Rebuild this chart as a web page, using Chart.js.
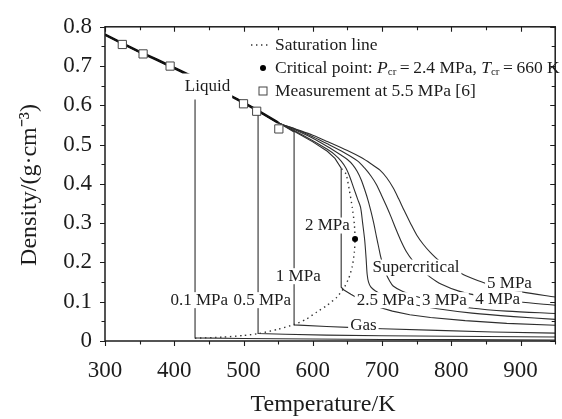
<!DOCTYPE html>
<html>
<head>
<meta charset="utf-8">
<script src="https://cdn.jsdelivr.net/npm/chart.js@4.4.0/dist/chart.umd.min.js"></script>
<style>
  html, body { margin: 0; padding: 0; background: #fff; }
  #wrap { width: 562px; height: 419px; }
</style>
</head>
<body>
<div id="wrap"><canvas id="myChart" width="562" height="419"></canvas></div>
<script>
const SERIF = "'Liberation Serif', 'Times New Roman', serif";
const INK = '#1c1c1c';
const LINE = '#2e2e2e';

// compressed liquid branch shared by every isobar (K, g/cm3)
const liquidT   = [300, 325, 350, 375, 400, 425, 450, 475, 500, 525, 550];
const liquidRho = [0.780, 0.758, 0.736, 0.716, 0.695, 0.674, 0.652, 0.630, 0.607, 0.582, 0.556];

// each isobar from the point where it leaves the shared liquid branch: [T, rho]
const p01 = [[430, 0.669], [430, 0.008], [500, 0.0065], [600, 0.005], [700, 0.004], [800, 0.0035], [950, 0.0025]];
const p05 = [[521, 0.586], [521, 0.019], [560, 0.017], [620, 0.015], [700, 0.0135], [800, 0.012], [950, 0.010]];
const p1  = [[573, 0.532], [573, 0.041], [620, 0.037], [660, 0.034], [700, 0.031], [780, 0.027], [860, 0.023], [950, 0.020]];
const p2  = [[575, 0.532], [600, 0.507], [621, 0.483], [632, 0.465], [641, 0.440], [641, 0.137], [645, 0.130],
             [655, 0.119], [665, 0.109], [680, 0.097], [692, 0.088], [715, 0.076], [740, 0.067], [770, 0.060],
             [820, 0.052], [880, 0.045], [950, 0.040]];
const p25 = [[575, 0.534], [600, 0.510], [621, 0.488], [632, 0.474], [641, 0.458], [648, 0.440], [653, 0.420],
             [659, 0.390], [665, 0.360], [669, 0.340], [672, 0.300], [675, 0.256], [677, 0.210], [678.5, 0.170],
             [680.5, 0.150], [684, 0.137], [690, 0.128], [700, 0.118], [715, 0.107], [740, 0.095], [780, 0.082],
             [830, 0.071], [890, 0.062], [950, 0.055]];
const p3  = [[575, 0.537], [600, 0.516], [621, 0.495], [640, 0.474], [650, 0.462], [658, 0.448], [664, 0.432],
             [670, 0.410], [675, 0.385], [680, 0.357], [684, 0.330], [688, 0.300], [692, 0.265], [695, 0.240],
             [698, 0.215], [702, 0.190], [706, 0.170], [711, 0.153], [716, 0.140], [730, 0.126], [759, 0.108],
             [790, 0.095], [828, 0.084], [880, 0.076], [950, 0.070]];
const p4  = [[575, 0.539], [600, 0.520], [621, 0.502], [645, 0.480], [665, 0.458], [675, 0.440], [684, 0.420],
             [692, 0.398], [699, 0.372], [706, 0.345], [713, 0.316], [720, 0.285], [727, 0.256], [735, 0.228],
             [745, 0.203], [757, 0.181], [770, 0.162], [785, 0.145], [811, 0.127], [850, 0.112], [897, 0.100],
             [950, 0.091]];
const p5  = [[575, 0.540], [600, 0.524], [621, 0.508], [650, 0.485], [670, 0.467], [685, 0.450], [697, 0.435],
             [707, 0.415], [716, 0.390], [724, 0.362], [732, 0.332], [741, 0.300], [750, 0.270], [760, 0.245],
             [770, 0.225], [782, 0.205], [797, 0.188], [810, 0.176], [821, 0.166], [849, 0.147], [875, 0.135],
             [902, 0.125], [950, 0.112]];

// saturation dome, gas side up to the critical point and back down the liquid side
const satT   = [430, 470, 500, 522, 550, 573, 590, 606, 620, 635, 645, 652, 657, 660, 661, 660, 657, 653, 648, 641];
const satRho = [0.007, 0.010, 0.014, 0.019, 0.030, 0.042, 0.055, 0.074, 0.090, 0.112, 0.135, 0.160, 0.190, 0.225, 0.260,
                0.298, 0.340, 0.382, 0.425, 0.440];

const critT = 661, critRho = 0.26;

// measurements at 5.5 MPa
const measT   = [325, 355, 394, 500, 519, 551];
const measRho = [0.755, 0.731, 0.700, 0.604, 0.585, 0.540];

const xTicks = [300, 400, 500, 600, 700, 800, 900];
const yTicks = [0, 0.1, 0.2, 0.3, 0.4, 0.5, 0.6, 0.7, 0.8];

// text placed on the plot, anchored in data units
const notes = [
  {text: 'Liquid', t: 448, r: 0.648, padY: 5},
  {text: '0.1 MPa', t: 436, r: 0.104},
  {text: '0.5 MPa', t: 527, r: 0.104},
  {text: '1 MPa', t: 579, r: 0.165},
  {text: '2 MPa', t: 621, r: 0.294},
  {text: 'Supercritical', t: 749, r: 0.187},
  {text: '2.5 MPa', t: 705, r: 0.104},
  {text: '3 MPa', t: 790, r: 0.104},
  {text: '4 MPa', t: 867, r: 0.106},
  {text: '5 MPa', t: 884, r: 0.147},
  {text: 'Gas', t: 673, r: 0.0405}
];

function isobar(tail) {
  const pts = [];
  for (let i = 0; i < liquidT.length; i++) {
    if (liquidT[i] < tail[0][0]) pts.push({x: liquidT[i], y: liquidRho[i]});
  }
  tail.forEach(p => pts.push({x: p[0], y: p[1]}));
  return pts;
}

function pairs(xs, ys) {
  return xs.map((v, i) => ({x: v, y: ys[i]}));
}

function lineSet(pts, smooth) {
  return {
    data: pts, showLine: true, borderColor: LINE, borderWidth: 1.1,
    pointRadius: 0, tension: smooth ? 0.3 : 0, fill: false
  };
}

const datasets = [
  {
    data: pairs(measT, measRho), showLine: false, pointStyle: 'rect', pointRadius: 5.8,
    backgroundColor: '#fff', borderColor: '#444', borderWidth: 1
  },
  {
    data: [{x: critT, y: critRho}], showLine: false, pointStyle: 'circle', pointRadius: 3,
    backgroundColor: '#000', borderColor: '#000', borderWidth: 0
  },
  {
    data: pairs(satT, satRho), showLine: true, borderColor: '#333', borderWidth: 1.4,
    borderDash: [1.4, 3.6], pointRadius: 0, tension: 0.2, fill: false
  },
  {
    data: pairs(liquidT, liquidRho), showLine: true, borderColor: '#111', borderWidth: 2.6,
    pointRadius: 0, tension: 0, fill: false
  },
  lineSet(isobar(p01), false),
  lineSet(isobar(p05), false),
  lineSet(isobar(p1), false),
  lineSet(isobar(p2), false),
  lineSet(isobar(p25), true),
  lineSet(isobar(p3), true),
  lineSet(isobar(p4), true),
  lineSet(isobar(p5), true)
];

// white-backed text over the curves
const notesPlugin = {
  id: 'notes',
  afterDatasetsDraw(chart) {
    const {ctx, scales: {x, y}} = chart;
    ctx.save();
    ctx.font = '17px ' + SERIF;
    ctx.textAlign = 'center';
    ctx.textBaseline = 'middle';
    notes.forEach(n => {
      const cx = x.getPixelForValue(n.t), cy = y.getPixelForValue(n.r);
      const w = ctx.measureText(n.text).width;
      const h = 16 + (n.padY || 0) * 2;
      ctx.fillStyle = '#fff';
      ctx.fillRect(cx - w / 2 - 2, cy - h / 2, w + 4, h);
      ctx.fillStyle = INK;
      ctx.fillText(n.text, cx, cy);
    });
    ctx.restore();
  }
};

function drawRuns(ctx, x, y, runs) {
  runs.forEach(r => {
    ctx.font = r.font;
    ctx.fillText(r.text, x, y + (r.dy || 0));
    x += ctx.measureText(r.text).width;
  });
}

// box frame with ticks on all four sides, axis titles and the key
const framePlugin = {
  id: 'frame',
  afterDraw(chart) {
    const {ctx, chartArea: a, scales: {x, y}} = chart;
    ctx.save();
    ctx.strokeStyle = INK;
    ctx.lineWidth = 1.5;
    ctx.strokeRect(a.left, a.top, a.right - a.left, a.bottom - a.top);
    ctx.lineWidth = 1.1;
    ctx.beginPath();
    for (let t = 300; t <= 950; t += 50) {
      const px = Math.round(x.getPixelForValue(t)) + 0.5;
      const len = t % 100 === 0 ? 5 : 3.5;
      ctx.moveTo(px, a.bottom); ctx.lineTo(px, a.bottom + len);
      ctx.moveTo(px, a.top); ctx.lineTo(px, a.top + len);
    }
    for (let i = 0; i <= 16; i++) {
      const py = Math.round(y.getPixelForValue(i * 0.05)) + 0.5;
      const len = i % 2 === 0 ? 5 : 3.5;
      ctx.moveTo(a.left, py); ctx.lineTo(a.left - len, py);
      ctx.moveTo(a.right, py); ctx.lineTo(a.right - len, py);
    }
    ctx.stroke();

    // axis titles
    ctx.fillStyle = INK;
    ctx.textAlign = 'center';
    ctx.textBaseline = 'middle';
    ctx.font = '24px ' + SERIF;
    ctx.fillText('Temperature/K', 323, 405);
    ctx.save();
    ctx.translate(30, 185);
    ctx.rotate(-Math.PI / 2);
    ctx.fillText('Density/(g\u00b7cm\u207b\u00b3)', 0, 0);
    ctx.restore();

    // key
    const kx = 275, sx = 263;
    ctx.textAlign = 'left';
    const reg = '17.5px ' + SERIF, ital = 'italic 17.5px ' + SERIF, sub = '11px ' + SERIF;

    ctx.strokeStyle = '#333';
    ctx.lineWidth = 1.4;
    ctx.setLineDash([1.4, 3.6]);
    ctx.beginPath(); ctx.moveTo(251, 45); ctx.lineTo(271, 45); ctx.stroke();
    ctx.setLineDash([]);
    ctx.font = reg;
    ctx.fillText('Saturation line', kx, 45);

    ctx.beginPath(); ctx.arc(sx, 68, 3, 0, Math.PI * 2); ctx.fillStyle = '#000'; ctx.fill();
    ctx.fillStyle = INK;
    drawRuns(ctx, kx, 68, [
      {text: 'Critical point: ', font: reg},
      {text: 'P', font: ital},
      {text: 'cr', font: sub, dy: 4},
      {text: '\u2009=\u20092.4 MPa, ', font: reg},
      {text: 'T', font: ital},
      {text: 'cr', font: sub, dy: 4},
      {text: '\u2009=\u2009660 K', font: reg}
    ]);

    ctx.strokeStyle = '#444';
    ctx.lineWidth = 1;
    ctx.strokeRect(sx - 4, 91 - 4, 8, 8);
    ctx.font = reg;
    ctx.fillText('Measurement at 5.5 MPa [6]', kx, 91);
    ctx.restore();
  }
};

const tickFont = {family: SERIF, size: 23};

new Chart(document.getElementById('myChart'), {
  type: 'scatter',
  data: {datasets: datasets},
  options: {
    responsive: false,
    animation: false,
    devicePixelRatio: 1,
    layout: {padding: {top: 25, right: 2, bottom: 0, left: 0}},
    plugins: {legend: {display: false}, tooltip: {enabled: false}},
    scales: {
      x: {
        type: 'linear', min: 300, max: 950,
        grid: {display: false, drawTicks: false, tickLength: 0},
        border: {display: false},
        afterBuildTicks: axis => { axis.ticks = xTicks.map(v => ({value: v})); },
        afterFit: axis => { axis.height = 78; },
        ticks: {font: tickFont, color: INK, padding: 16, maxRotation: 0, callback: v => String(v)}
      },
      y: {
        type: 'linear', min: 0, max: 0.8,
        grid: {display: false, drawTicks: false, tickLength: 0},
        border: {display: false},
        afterBuildTicks: axis => { axis.ticks = yTicks.map(v => ({value: v})); },
        afterFit: axis => { axis.width = 105; },
        ticks: {font: tickFont, color: INK, padding: 13, callback: v => v === 0 ? '0' : v.toFixed(1)}
      }
    }
  },
  plugins: [notesPlugin, framePlugin]
});
</script>
</body>
</html>
